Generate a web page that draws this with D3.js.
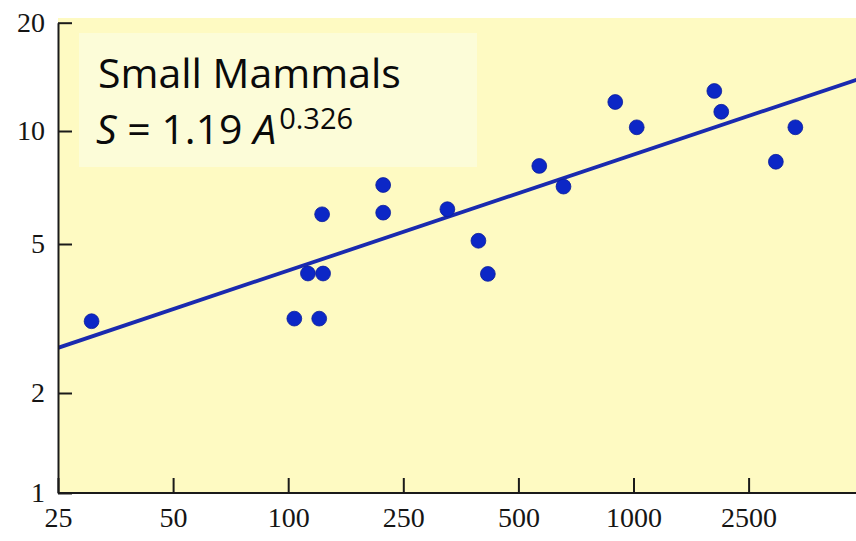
<!DOCTYPE html>
<html>
<head>
<meta charset="utf-8">
<script src="https://cdn.jsdelivr.net/npm/d3@7"></script>
<style>
  body { margin: 0; background: #fff; }
  .axis text { font-family: "Liberation Serif", "Times New Roman", serif; font-size: 28px; fill: #151515; }
  .axis path, .axis line { stroke: #1a1a1a; stroke-width: 2; }
  .label { font-family: "Open Sans", sans-serif; fill: #0a0a0a; white-space: pre; }
</style>
</head>
<body>
<svg id="chart" width="856" height="541"></svg>
<script>
// island area A vs. number of species S, small mammals
var area    = [30.6, 105, 128, 117, 132, 131, 213, 213, 326, 393, 416, 567, 656, 896, 1026, 1903, 2011, 2946, 3313];
var species = [3.11, 3.16, 3.16, 4.17, 4.17, 6.0, 7.18, 6.06, 6.19, 5.10, 4.16, 8.07, 7.11, 12.04, 10.24, 12.92, 11.31, 8.28, 10.24];

// fitted power line, drawn end to end
var fitArea    = [25, 5000];
var fitSpecies = [2.64, 14.1];

var xTicks = [25, 50, 100, 250, 500, 1000, 2500];
var yTicks = [1, 2, 5, 10, 20];

var title = "Small Mammals";

var W = 856, H = 541;
var mLeft = 58, mBottom = 493, mTop = 22.7;

// the printed axis puts every x label one equal step apart, so the log scale is piecewise
var xDomain = xTicks.concat([5000]);
var x = d3.scaleLog()
  .domain(xDomain)
  .range(xDomain.map(function(d, i) { return mLeft + i * 115.1; }));

// y is log too, but the scan is a little uneven, so also piecewise on its ticks
var y = d3.scaleLog()
  .domain(yTicks)
  .range([mBottom, 393, 244, 131, mTop]);

var svg = d3.select("#chart");

svg.append("rect")
  .attr("x", mLeft).attr("y", 18)
  .attr("width", W - mLeft).attr("height", mBottom - 18)
  .attr("fill", "#fefac2");

svg.append("defs").append("clipPath").attr("id", "plot")
  .append("rect")
  .attr("x", mLeft).attr("y", 0)
  .attr("width", W - mLeft).attr("height", mBottom);

// legend box
svg.append("rect")
  .attr("x", 79).attr("y", 33)
  .attr("width", 398).attr("height", 134)
  .attr("fill", "#fcfcd8");

svg.append("text").attr("class", "label")
  .attr("x", 98).attr("y", 88)
  .style("font-size", "41px")
  .text(title);

var t2 = svg.append("text").attr("class", "label")
  .attr("x", 96).attr("y", 144)
  .style("font-size", "41px");
t2.append("tspan").style("font-style", "italic").text("S");
t2.append("tspan").text(" = 1.19 ");
t2.append("tspan").style("font-style", "italic").text("A");
t2.append("tspan").attr("dx", 3).attr("dy", -15).style("font-size", "29px").text("0.326");

// regression line
var line = d3.line()
  .x(function(d) { return x(d[0]); })
  .y(function(d) { return y(d[1]); });

svg.append("path")
  .datum(d3.zip(fitArea, fitSpecies))
  .attr("clip-path", "url(#plot)")
  .attr("d", line)
  .attr("fill", "none")
  .attr("stroke", "#1a2aaf")
  .attr("stroke-width", 3.8);

// points
svg.append("g").selectAll("circle")
  .data(d3.zip(area, species))
  .enter().append("circle")
  .attr("cx", function(d) { return x(d[0]); })
  .attr("cy", function(d) { return y(d[1]); })
  .attr("r", 7.4)
  .attr("fill", "#0c27c6")
  .attr("stroke", "#0a1d9a")
  .attr("stroke-width", 0.8);

// axes, ticks point inward
var xAxis = d3.axisBottom(x)
  .tickValues(xTicks)
  .tickFormat(d3.format("d"))
  .tickSizeInner(-15)
  .tickSizeOuter(0)
  .tickPadding(14);

var yAxis = d3.axisLeft(y)
  .tickValues(yTicks)
  .tickFormat(d3.format("d"))
  .tickSizeInner(-14)
  .tickSizeOuter(0)
  .tickPadding(13);

svg.append("g").attr("class", "axis")
  .attr("transform", "translate(0," + mBottom + ")")
  .call(xAxis)
  .select(".domain").attr("d", "M" + mLeft + ",0H" + W);

svg.append("g").attr("class", "axis")
  .attr("transform", "translate(" + mLeft + ",0)")
  .call(yAxis);
</script>
</body>
</html>
